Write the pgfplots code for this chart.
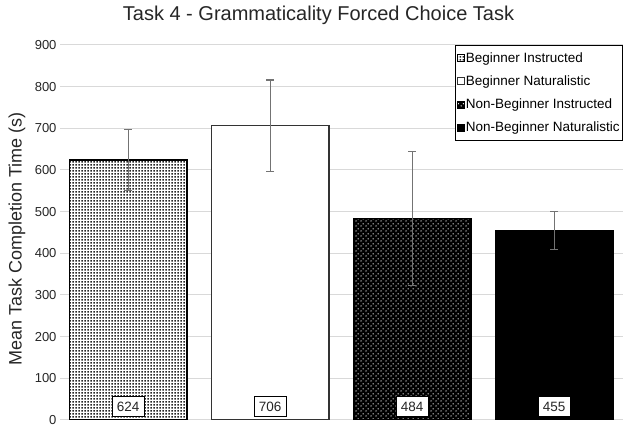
\documentclass[border=0pt]{standalone}
\usepackage{pgfplots}
\pgfplotsset{compat=1.18}
\usepackage{fontspec}
\setmainfont{Liberation Sans}
\usetikzlibrary{patterns.meta}

% dense grey-looking dots for the first bar
\tikzdeclarepattern{
  name=finedots, type=uncolored,
  bounding box={(0pt,0pt) and (3pt,3pt)},
  tile size={(3pt,3pt)},
  code={\fill (0.6pt,0.6pt) rectangle (2.4pt,2.4pt);}
}
% sparse white dots on black for the third bar
\tikzdeclarepattern{
  name=sparsedots, type=uncolored,
  bounding box={(0pt,0pt) and (5pt,5pt)},
  tile size={(5pt,5pt)},
  code={\fill (1.25pt,1.25pt) circle (0.8pt); \fill (3.75pt,3.75pt) circle (0.8pt);}
}

\pgfplotsset{
  errstyle/.style={
    error bars/.cd, y dir=both, y explicit,
    error bar style={black!55, line width=1.2pt},
    error mark options={rotate=90, mark size=4pt, black!55, line width=1.2pt},
  },
  sqlegend/.style={legend image code/.code={
    \draw[##1, line width=0.6pt] (0pt,-3.5pt) rectangle (7pt,3.5pt);}},
}

\begin{document}
\begin{tikzpicture}
\begin{axis}[
  scale only axis,
  width=563pt, height=375pt,
  xmin=-0.48, xmax=3.485,
  ymin=0, ymax=900,
  ytick={0,100,...,900},
  xtick=\empty,
  axis line style={draw=none},
  ymajorgrids,
  grid style={black!15, line width=1pt},
  major tick length=0pt,
  tick label style={font=\fontsize{13}{15}\selectfont, text=black!85},
  /pgf/number format/assume math mode=true,
  ylabel={Mean Task Completion Time (s)},
  every axis y label/.style={at={(0,0.483)}, xshift=-43pt, rotate=90, anchor=center,
    font=\fontsize{18}{21}\selectfont, text=black!85},
  title={Task 4 - Grammaticality Forced Choice Task},
  title style={at={(0.5,1)}, anchor=base, yshift=18pt, xshift=-23pt,
    font=\fontsize{20}{24}\selectfont, text=black!85},
  legend style={at={(1,1)}, anchor=north east,
    font=\fontsize{13.5}{16}\selectfont, draw=black, line width=0.6pt,
    row sep=8pt, inner xsep=2pt, inner ysep=5pt,
    nodes={inner xsep=1pt}},
  legend cell align=left,
  bar width=0.83,
]
\addplot[ybar, bar shift=0pt, draw=black, line width=1.3pt, fill=white,
  postaction={pattern={finedots}, pattern color=black!85}, sqlegend, errstyle]
  coordinates {(0,624) +- (0,73)};
\addlegendentry{Beginner Instructed}
\addplot[ybar, bar shift=0pt, draw=black!80, line width=1.3pt, fill=white, sqlegend, errstyle]
  coordinates {(1,706) +- (0,110)};
\addlegendentry{Beginner Naturalistic}
\addplot[ybar, bar shift=0pt, draw=black, line width=1.3pt, fill=black,
  postaction={pattern={sparsedots}, pattern color=white}, sqlegend, errstyle]
  coordinates {(2,484) +- (0,161)};
\addlegendentry{Non-Beginner Instructed}
\addplot[ybar, bar shift=0pt, draw=black, line width=1.3pt, fill=black, sqlegend, errstyle]
  coordinates {(3,455) +- (0,46)};
\addlegendentry{Non-Beginner Naturalistic}
% value boxes at the foot of each bar
\addplot[draw=none, mark=none, forget plot,
  point meta=explicit symbolic,
  nodes near coords,
  every node near coord/.append style={draw=black, line width=1pt, fill=white,
    text=black!85, font=\fontsize{13.5}{15}\selectfont,
    inner sep=0pt, minimum width=32pt, minimum height=20pt}]
  coordinates {(0,7)[624] (1,7)[706] (2,7)[484] (3,7)[455]};
\end{axis}
\pgfresetboundingbox
\path[use as bounding box] ([shift={(-60pt,-7pt)}]current axis.south west)
  rectangle ([shift={(0pt,45pt)}]current axis.north east);
\end{tikzpicture}
\end{document}
